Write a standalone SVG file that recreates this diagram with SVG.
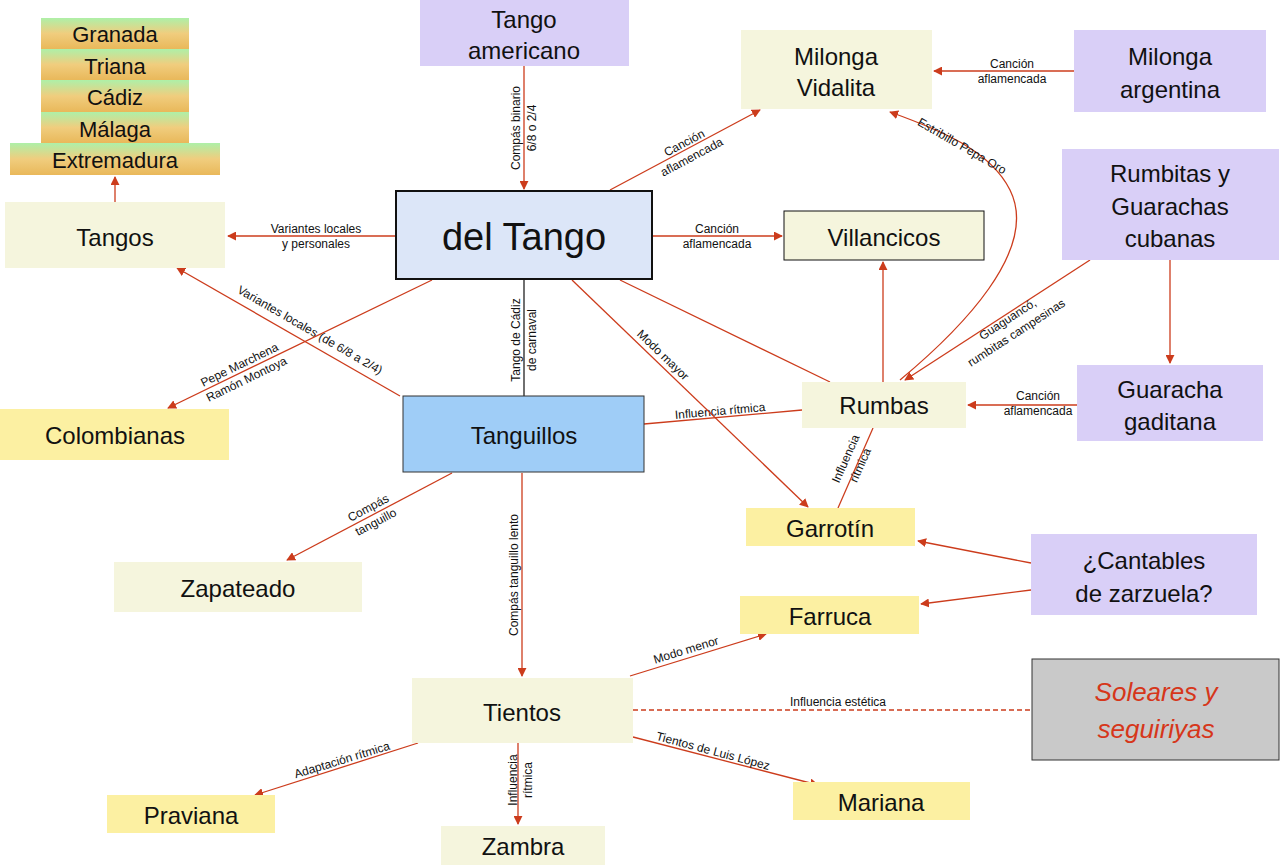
<svg xmlns="http://www.w3.org/2000/svg" width="1280" height="866" viewBox="0 0 1280 866">
<defs>
<linearGradient id="gr" x1="0" y1="0" x2="0" y2="1"><stop offset="0" stop-color="#aef0a8"/><stop offset="0.5" stop-color="#f0cd7e"/><stop offset="1" stop-color="#e9b85a"/></linearGradient>
<marker id="ar" viewBox="0 0 10 10" refX="9" refY="5" markerWidth="9" markerHeight="9" orient="auto-start-reverse" markerUnits="userSpaceOnUse"><path d="M0,0 L10,5 L0,10 z" fill="#cc3c1c"/></marker>
</defs>
<style>
text{font-family:"Liberation Sans",Arial,sans-serif;text-anchor:middle;dominant-baseline:central;fill:#111}
.n{font-size:24px}
.l{font-size:12px}
.pale{fill:#f5f5dd}
.pur{fill:#d9cff7}
.yel{fill:#fcf0a2}
.st{fill:url(#gr)}
.e{stroke:#cc3c1c;stroke-width:1.3;fill:none}
.ea{stroke:#cc3c1c;stroke-width:1.3;fill:none;marker-end:url(#ar)}
</style>
<rect width="1280" height="866" fill="#fff"/>
<g id="connectors">
<line class="ea" x1="115" y1="202" x2="115" y2="177"/>
<line class="ea" x1="396" y1="236" x2="228" y2="236"/>
<text class="l" x="316" y="229">Variantes locales</text><text class="l" x="316" y="244">y personales</text>
<line class="ea" x1="524" y1="66" x2="524" y2="189"/>
<text class="l" transform="translate(524,128) rotate(-90)"><tspan x="0" y="-8">Compás binario</tspan><tspan x="0" y="8">6/8 o 2/4</tspan></text>
<line class="ea" x1="610" y1="190" x2="760" y2="110"/>
<text class="l" transform="translate(688,150) rotate(-28)"><tspan x="0" y="-8">Canción</tspan><tspan x="0" y="8">aflamencada</tspan></text>
<line class="ea" x1="1074" y1="71" x2="934" y2="71"/>
<text class="l" x="1012" y="64">Canción</text><text class="l" x="1012" y="79">aflamencada</text>
<line class="ea" x1="652" y1="236" x2="782" y2="236"/>
<text class="l" x="717" y="229">Canción</text><text class="l" x="717" y="244">aflamencada</text>
<path class="ea" d="M900,380 C960,330 1040,250 1010,190 C990,150 940,130 890,112"/>
<text class="l" transform="translate(962,146) rotate(30)">Estribillo Pepa Oro</text>
<line class="ea" x1="883" y1="382" x2="883" y2="262"/>
<line class="ea" x1="1090" y1="260" x2="905" y2="380"/>
<text class="l" transform="translate(1012,326) rotate(-33)"><tspan x="0" y="-8">Guaguancó,</tspan><tspan x="0" y="8">rumbitas campesinas</tspan></text>
<line class="ea" x1="1170" y1="260" x2="1170" y2="363"/>
<line class="ea" x1="1077" y1="405" x2="968" y2="405"/>
<text class="l" x="1038" y="396">Canción</text><text class="l" x="1038" y="411">aflamencada</text>
<line class="e" x1="620" y1="280" x2="830" y2="382"/>
<line class="e" x1="644" y1="424" x2="802" y2="410"/>
<text class="l" transform="translate(720,411) rotate(-5)">Influencia rítmica</text>
<line class="ea" x1="572" y1="280" x2="808" y2="507"/>
<text class="l" transform="translate(663,355) rotate(44)">Modo mayor</text>
<line class="e" x1="873" y1="428" x2="838" y2="508"/>
<text class="l" transform="translate(853,462) rotate(-66)"><tspan x="0" y="-8">Influencia</tspan><tspan x="0" y="8">rítmica</tspan></text>
<line stroke="#222" stroke-width="1.3" x1="524" y1="279" x2="524" y2="396"/>
<text class="l" transform="translate(524,340) rotate(-90)"><tspan x="0" y="-8">Tango de Cádiz</tspan><tspan x="0" y="8">de carnaval</tspan></text>
<line class="ea" x1="400" y1="396" x2="177" y2="268"/>
<text class="l" transform="translate(310,330) rotate(30)">Variantes locales (de 6/8 a 2/4)</text>
<line class="ea" x1="432" y1="280" x2="168" y2="408"/>
<text class="l" transform="translate(243,372) rotate(-26)"><tspan x="0" y="-8">Pepe Marchena</tspan><tspan x="0" y="8">Ramón Montoya</tspan></text>
<line class="ea" x1="452" y1="473" x2="287" y2="560"/>
<text class="l" transform="translate(372,515) rotate(-28)"><tspan x="0" y="-8">Compás</tspan><tspan x="0" y="8">tanguillo</tspan></text>
<line class="ea" x1="522" y1="473" x2="522" y2="676"/>
<text class="l" transform="translate(514,575) rotate(-90)">Compás tanguillo lento</text>
<line class="ea" x1="1031" y1="563" x2="918" y2="541"/>
<line class="ea" x1="1031" y1="590" x2="921" y2="604"/>
<line class="ea" x1="630" y1="676" x2="766" y2="634"/>
<text class="l" transform="translate(686,650) rotate(-17)">Modo menor</text>
<line class="e" stroke-dasharray="5,3" x1="633" y1="710" x2="1032" y2="710"/>
<text class="l" x="838" y="702">Influencia estética</text>
<line class="ea" x1="418" y1="743" x2="255" y2="795"/>
<text class="l" transform="translate(342,760) rotate(-17)">Adaptación rítmica</text>
<line class="ea" x1="518" y1="743" x2="518" y2="824"/>
<text class="l" transform="translate(520,780) rotate(-90)"><tspan x="0" y="-7">Influencia</tspan><tspan x="0" y="8">rítmica</tspan></text>
<line class="ea" x1="633" y1="737" x2="818" y2="785"/>
<text class="l" transform="translate(713,751) rotate(15)">Tientos de Luis López</text>
</g>
<g id="stack">
<rect class="st" x="41" y="18" width="148" height="31"/><text class="n" font-size="22" x="115" y="34" style="font-size:22px">Granada</text>
<rect class="st" x="41" y="49" width="148" height="31"/><text x="115" y="66" style="font-size:22px">Triana</text>
<rect class="st" x="41" y="80" width="148" height="32"/><text x="115" y="97" style="font-size:22px">Cádiz</text>
<rect class="st" x="41" y="112" width="148" height="31"/><text x="115" y="129" style="font-size:22px">Málaga</text>
<rect class="st" x="10" y="143" width="210" height="32"/><text x="115" y="160" style="font-size:22px">Extremadura</text>
</g>
<g id="tangos"><rect class="pale" x="5" y="202" width="220" height="66"/><text class="n" x="115" y="237">Tangos</text></g>
<g id="tango-americano"><rect class="pur" x="420" y="0" width="209" height="66"/><text class="n" x="524" y="19">Tango</text><text class="n" x="524" y="50">americano</text></g>
<g id="del-tango"><rect x="396" y="191" width="256" height="88" fill="#dce6f8" stroke="#111" stroke-width="2"/><text x="524" y="237" style="font-size:38px">del Tango</text></g>
<g id="milonga-vidalita"><rect class="pale" x="741" y="30" width="191" height="79"/><text class="n" x="836" y="56">Milonga</text><text class="n" x="836" y="87">Vidalita</text></g>
<g id="milonga-argentina"><rect class="pur" x="1074" y="30" width="192" height="82"/><text class="n" x="1170" y="56">Milonga</text><text class="n" x="1170" y="89">argentina</text></g>
<g id="villancicos"><rect class="pale" x="784" y="211" width="200" height="49" stroke="#111" stroke-width="1"/><text class="n" x="884" y="237">Villancicos</text></g>
<g id="rumbitas"><rect class="pur" x="1062" y="149" width="217" height="111"/><text class="n" x="1170" y="173">Rumbitas y</text><text class="n" x="1170" y="206">Guarachas</text><text class="n" x="1170" y="238">cubanas</text></g>
<g id="guaracha"><rect class="pur" x="1077" y="365" width="186" height="76"/><text class="n" x="1170" y="389">Guaracha</text><text class="n" x="1170" y="421">gaditana</text></g>
<g id="rumbas"><rect class="pale" x="802" y="382" width="164" height="46"/><text class="n" x="884" y="405">Rumbas</text></g>
<g id="colombianas"><rect class="yel" x="0" y="409" width="229" height="51"/><text class="n" x="115" y="435">Colombianas</text></g>
<g id="tanguillos"><rect x="403" y="396" width="241" height="76" fill="#9fcdf7" stroke="#333" stroke-width="1"/><text class="n" x="524" y="435">Tanguillos</text></g>
<g id="garrotin"><rect class="yel" x="746" y="508" width="169" height="38"/><text class="n" x="830" y="528">Garrotín</text></g>
<g id="cantables"><rect class="pur" x="1031" y="534" width="226" height="81"/><text class="n" x="1144" y="560">¿Cantables</text><text class="n" x="1144" y="593">de zarzuela?</text></g>
<g id="zapateado"><rect class="pale" x="114" y="562" width="248" height="50"/><text class="n" x="238" y="588">Zapateado</text></g>
<g id="farruca"><rect class="yel" x="740" y="596" width="179" height="38"/><text class="n" x="830" y="616">Farruca</text></g>
<g id="tientos"><rect class="pale" x="412" y="678" width="221" height="65"/><text class="n" x="522" y="712">Tientos</text></g>
<g id="soleares"><rect x="1032" y="659" width="247" height="101" fill="#c9c9c9" stroke="#333" stroke-width="1"/><text x="1156" y="692" style="font-size:26px;font-style:italic;fill:#d6361a">Soleares y</text><text x="1156" y="729" style="font-size:26px;font-style:italic;fill:#d6361a">seguiriyas</text></g>
<g id="praviana"><rect class="yel" x="107" y="795" width="168" height="38"/><text class="n" x="191" y="815">Praviana</text></g>
<g id="mariana"><rect class="yel" x="793" y="782" width="177" height="38"/><text class="n" x="881" y="802">Mariana</text></g>
<g id="zambra"><rect class="pale" x="441" y="826" width="164" height="39"/><text class="n" x="523" y="846">Zambra</text></g>
</svg>
